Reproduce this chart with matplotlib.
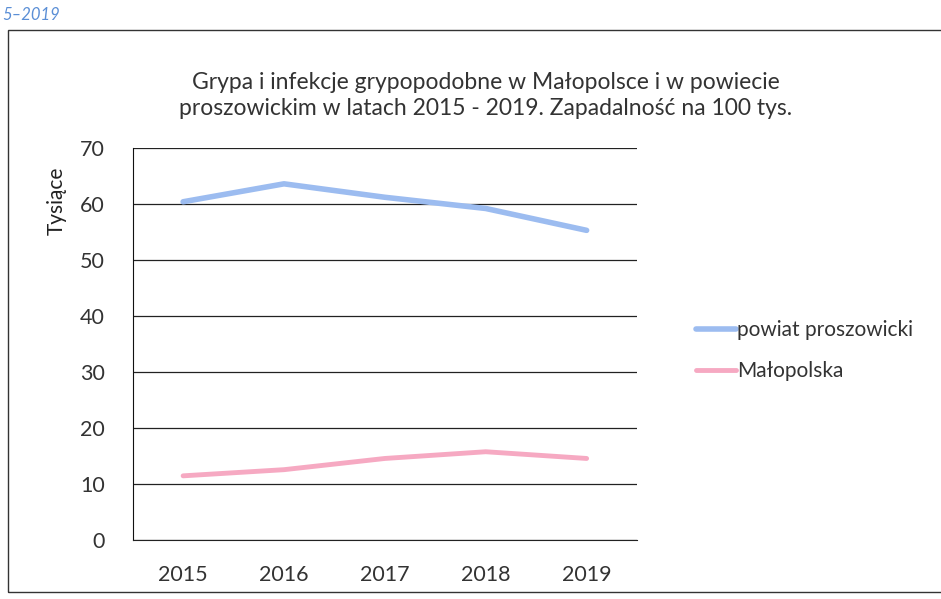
import matplotlib.pyplot as plt
from matplotlib.patches import Rectangle

plt.rcParams['font.family'] = ['Lato', 'DejaVu Sans']

years = ['2015', '2016', '2017', '2018', '2019']
powiat = [60.4, 63.6, 61.2, 59.2, 55.3]
malopolska = [11.5, 12.6, 14.6, 15.8, 14.6]

title = 'Grypa i infekcje grypopodobne w Małopolsce i w powiecie\nproszowickim w latach 2015 - 2019. Zapadalność na 100 tys.'

fig = plt.figure(figsize=(9.41, 5.99), dpi=100)
ax = fig.add_axes([0.141, 0.098, 0.536, 0.655])

x = range(len(years))
ax.plot(x, powiat, color='#9cbcf0', lw=4, solid_capstyle='round', label='powiat proszowicki')
ax.plot(x, malopolska, color='#f6a9c2', lw=3.5, solid_capstyle='round', label='Małopolska')

ax.set_xlim(-0.5, 4.5)
ax.set_ylim(0, 70)
ax.set_yticks(range(0, 71, 10))
ax.set_xticks(list(x))
ax.set_xticklabels(years)
ax.yaxis.grid(True, color='#222222', lw=0.9)
ax.set_axisbelow(True)
for s in ['top', 'right']:
    ax.spines[s].set_visible(False)
ax.spines['left'].set_color('#111111')
ax.spines['bottom'].set_color('#222222')
ax.tick_params(length=0, labelsize=15.5, colors='#333333')
ax.tick_params(axis='x', pad=18)
ax.tick_params(axis='y', pad=20)
ax.set_ylabel('Tysiące', fontsize=15, color='#222222')
ax.yaxis.set_label_coords(-0.13, 0.865)

fig.text(0.516, 0.84, title, ha='center', va='center', fontsize=16.5,
         color='#333333', linespacing=1.3)

fig.text(0.002, 0.975, '5–2019', fontsize=12, color='#5b8fd6', style='italic', va='center')

fig.patches.append(Rectangle((0.009, 0.012), 1.2, 0.938, transform=fig.transFigure,
                             fill=False, edgecolor='#333333', lw=1.0))

ax.legend(loc='center left', bbox_to_anchor=(0.74, 0.415), bbox_transform=fig.transFigure,
          frameon=False, fontsize=15, handlelength=1.9, handletextpad=0.05,
          labelspacing=1.0, labelcolor='#333333', borderaxespad=0, borderpad=0)

fig.savefig('out.png', dpi=100)
